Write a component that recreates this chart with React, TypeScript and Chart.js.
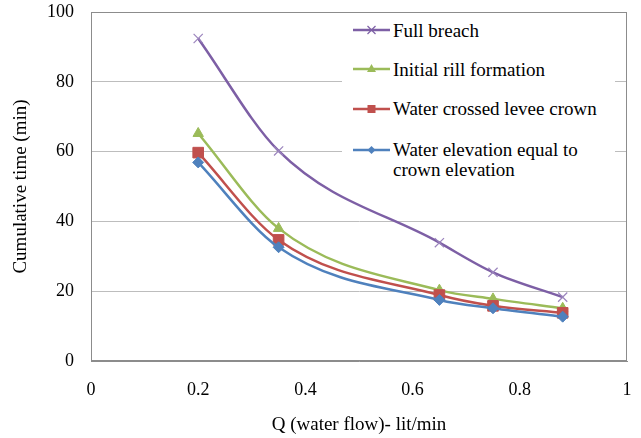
import React, { useEffect, useRef } from "react";
import { Chart, registerables } from "chart.js";

Chart.register(...registerables);

// ---- data ----
const xValues = [0.2, 0.35, 0.65, 0.75, 0.88];
const fullBreach = [92.4, 60.2, 33.9, 25.4, 18.3];
const initialRill = [65.2, 38.0, 20.3, 17.8, 15.1];
const waterCrossed = [59.7, 34.7, 18.9, 15.8, 13.8];
const waterElevation = [56.9, 32.6, 17.5, 15.1, 12.7];
const seriesNames = [
  "Full breach",
  "Initial rill formation",
  "Water crossed levee crown",
  "Water elevation equal to crown elevation",
];
const xTicks = [0, 0.2, 0.4, 0.6, 0.8, 1];
const yTicks = [0, 20, 40, 60, 80, 100];
const xTitle = "Q (water flow)- lit/min";
const yTitle = "Cumulative time (min)";

const PURPLE = "#7d5fa5";
const GREEN = "#9bbb59";
const RED = "#c0504d";
const BLUE = "#4f81bd";
const FONT = '"Liberation Serif", "DejaVu Serif", "Noto Serif", serif';

const toPoints = (ys: number[]) => xValues.map((x, i) => ({ x, y: ys[i] }));

const borderPlugin = {
  id: "plotBorder",
  beforeDatasetsDraw(chart: any) {
    const { ctx, chartArea } = chart;
    const l = Math.round(chartArea.left) + 0.5;
    const t = Math.round(chartArea.top) + 0.5;
    const r = Math.round(chartArea.right) - 0.5;
    const b = Math.round(chartArea.bottom) - 0.5;
    ctx.save();
    ctx.strokeStyle = "#8c8c8c";
    ctx.lineWidth = 1;
    ctx.strokeRect(l, t, r - l, b - t);
    ctx.restore();
  },
};

function Marker({ kind, color }: { kind: string; color: string }) {
  const cx = 18.5;
  const cy = 6;
  let m: any = null;
  if (kind === "cross")
    m = (
      <path
        d={`M${cx - 4} ${cy - 4} L${cx + 4} ${cy + 4} M${cx - 4} ${cy + 4} L${cx + 4} ${cy - 4}`}
        stroke={color}
        strokeWidth={1.2}
        fill="none"
      />
    );
  if (kind === "triangle")
    m = <path d={`M${cx} ${cy - 5} L${cx + 4.5} ${cy + 3} L${cx - 4.5} ${cy + 3} Z`} fill={color} />;
  if (kind === "square") m = <rect x={cx - 4} y={cy - 4} width={8} height={8} fill={color} />;
  if (kind === "diamond")
    m = <path d={`M${cx} ${cy - 4} L${cx + 4} ${cy} L${cx} ${cy + 4} L${cx - 4} ${cy} Z`} fill={color} />;
  return (
    <svg width={37} height={12} style={{ position: "absolute", left: 11, top: -6 }}>
      <line x1={0} y1={cy} x2={37} y2={cy} stroke={color} strokeWidth={2.5} />
      {m}
    </svg>
  );
}

function LegendRow({
  top,
  lineY,
  kind,
  color,
  lines,
}: {
  top: number;
  lineY: number;
  kind: string;
  color: string;
  lines: string[];
}) {
  return (
    <>
      <div style={{ position: "absolute", left: 0, top: lineY, width: 60, height: 0 }}>
        <Marker kind={kind} color={color} />
      </div>
      <div
        style={{
          position: "absolute",
          left: 51,
          top,
          whiteSpace: "nowrap",
        }}
      >
        {lines.map((t, i) => (
          <div key={i} style={{ height: i === 0 ? 21 : 20, lineHeight: i === 0 ? "21px" : "20px" }}>
            {t}
          </div>
        ))}
      </div>
    </>
  );
}

export default function App() {
  const ref = useRef<HTMLCanvasElement>(null);

  useEffect(() => {
    const canvas = ref.current;
    if (!canvas) return;
    const tickFont = { family: FONT, size: 18 };
    const titleFont = { family: FONT, size: 19 };
    const common = { borderWidth: 2.5, cubicInterpolationMode: "monotone" };
    const chart = new Chart(canvas, {
      type: "line",
      data: {
        datasets: [
          {
            ...common,
            label: seriesNames[3],
            data: toPoints(waterElevation),
            borderColor: BLUE,
            backgroundColor: BLUE,
            pointStyle: "rectRot",
            pointRadius: 5.5,
            pointBorderWidth: 1,
            pointBackgroundColor: BLUE,
            pointBorderColor: BLUE,
          },
          {
            ...common,
            label: seriesNames[2],
            data: toPoints(waterCrossed),
            borderColor: RED,
            backgroundColor: RED,
            pointStyle: "rect",
            pointRadius: 7.5,
            pointBorderWidth: 1,
            pointBackgroundColor: RED,
            pointBorderColor: RED,
          },
          {
            ...common,
            label: seriesNames[1],
            data: toPoints(initialRill),
            borderColor: GREEN,
            backgroundColor: GREEN,
            pointStyle: "triangle",
            pointRadius: 6,
            pointBorderWidth: 1,
            pointBackgroundColor: GREEN,
            pointBorderColor: GREEN,
          },
          {
            ...common,
            label: seriesNames[0],
            data: toPoints(fullBreach),
            borderColor: PURPLE,
            backgroundColor: PURPLE,
            pointStyle: "crossRot",
            pointRadius: 6.5,
            pointBorderWidth: 1.2,
            pointBackgroundColor: PURPLE,
            pointBorderColor: "#9b84bd",
          },
        ],
      },
      options: {
        responsive: false,
        animation: false,
        devicePixelRatio: 1,
        layout: { padding: { left: 0, right: 14, top: 12, bottom: 0 } },
        plugins: { legend: { display: false }, tooltip: { enabled: false } },
        scales: {
          x: {
            type: "linear",
            min: 0,
            max: 1,
            afterBuildTicks: (s: any) => {
              s.ticks = xTicks.map((v) => ({ value: v }));
            },
            afterFit: (s: any) => {
              s.height = 77;
              s.paddingLeft = 0;
              s.paddingRight = 0;
            },
            grid: { display: false, drawTicks: false },
            border: { display: true, color: "#8c8c8c" },
            ticks: {
              padding: 18,
              color: "#000",
              font: tickFont,
              maxRotation: 0,
              autoSkip: false,
              callback: (v: any) => String(Math.round(Number(v) * 10) / 10),
            },
            title: {
              display: true,
              text: xTitle,
              color: "#000",
              font: titleFont,
              padding: { top: 0, bottom: 2 },
            },
          },
          y: {
            type: "linear",
            min: 0,
            max: 100,
            afterBuildTicks: (s: any) => {
              s.ticks = yTicks.map((v) => ({ value: v }));
            },
            afterFit: (s: any) => {
              s.width = 91;
              s.paddingTop = 0;
              s.paddingBottom = 0;
            },
            grid: { color: "#bdbdbd", drawTicks: false },
            border: { display: true, color: "#8c8c8c" },
            ticks: {
              padding: 17,
              color: "#000",
              font: tickFont,
              callback: (v: any) => String(v),
            },
            title: {
              display: true,
              text: yTitle,
              color: "#000",
              font: titleFont,
              padding: { top: 10, bottom: 0 },
            },
          },
        },
      },
      plugins: [borderPlugin],
    } as any);
    return () => chart.destroy();
  }, []);

  return (
    <div
      style={{
        position: "absolute",
        left: 0,
        top: 0,
        width: 641,
        height: 438,
        background: "#fff",
        overflow: "hidden",
      }}
    >
      <canvas ref={ref} width={641} height={438} style={{ display: "block", width: 641, height: 438 }} />
      <div
        style={{
          position: "absolute",
          left: 342,
          top: 14,
          width: 273,
          height: 174,
          background: "#fff",
          fontFamily: FONT,
          fontSize: 19,
          color: "#000",
        }}
      >
        <LegendRow top={6} lineY={16} kind="cross" color={PURPLE} lines={[seriesNames[0]]} />
        <LegendRow top={45} lineY={55} kind="triangle" color={GREEN} lines={[seriesNames[1]]} />
        <LegendRow top={84} lineY={95} kind="square" color={RED} lines={[seriesNames[2]]} />
        <LegendRow
          top={125}
          lineY={136}
          kind="diamond"
          color={BLUE}
          lines={["Water elevation equal to", "crown elevation"]}
        />
      </div>
    </div>
  );
}
